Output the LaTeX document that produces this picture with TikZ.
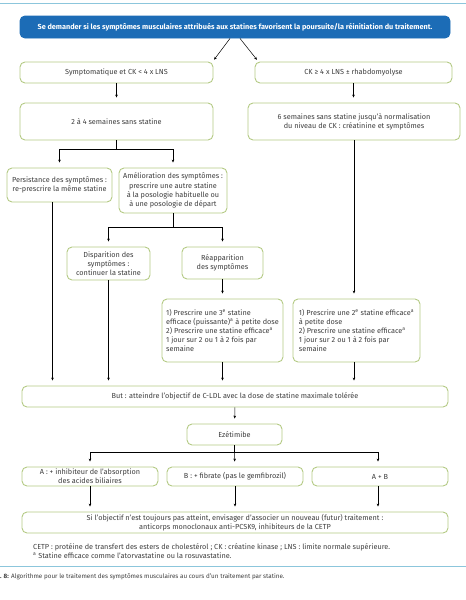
\documentclass[tikz,border=0pt]{standalone}
\usepackage{fontspec}
\setmainfont{Fira Sans}
\usetikzlibrary{arrows.meta}
\definecolor{boxgreen}{RGB}{180,202,132}
\definecolor{headblue}{RGB}{28,108,182}
\definecolor{ruleblue}{RGB}{140,198,220}
\definecolor{txtgray}{RGB}{62,62,62}

\begin{document}
\begin{tikzpicture}[x = 1pt, y = -1pt,
    every node/.style = {font = \fontsize{7.3}{9.2}\selectfont, text = txtgray},
    box/.style = {draw = boxgreen, line width = 0.9pt, rounded corners = 5pt,
                  fill = white, align = center, inner sep = 2pt},
    leftbox/.style = {box, align = left},
    arr/.style = {-{Stealth[length = 3pt, width = 2.6pt]}, line width = 0.5pt,
                  shorten >= 5pt}]
  \useasboundingbox (0, 0) rectangle (466, 600);
  \draw [ruleblue, line width = 0.8pt] (0, 3) -- (466, 3);

  \node [box, draw = headblue, fill = headblue, text = white,
         minimum width = 430pt, minimum height = 22pt] (head) at (235, 27)
        {\bfseries Se demander si les symptômes musculaires attribués aux statines favorisent la poursuite/la réinitiation du traitement.};

  \node [box, minimum width = 193pt, minimum height = 21pt] (symp) at (116.5, 72.5)
        {Symptomatique et CK < 4 x LNS};
  \node [box, minimum width = 197pt, minimum height = 21pt] (ckhigh) at (353.5, 72.5)
        {CK ≥ 4 x LNS ± rhabdomyolyse};
  \draw [arr, shorten >= 1pt] ([xshift = -5pt]head.south) -- ([yshift = 1pt]symp.north east);
  \draw [arr, shorten >= 1pt] ([xshift = 5pt]head.south) -- ([xshift = 3pt, yshift = 1pt]ckhigh.north west);

  \node [box, minimum width = 193pt, minimum height = 37pt] (wait1) at (116.5, 121.5)
        {2 à 4 semaines sans statine};
  \node [box, minimum width = 212pt, minimum height = 37pt] (wait2) at (354, 121.5)
        {6 semaines sans statine jusqu’à normalisation\\du niveau de CK : créatinine et symptômes};
  \draw [arr] (symp) -- (wait1);
  \draw [arr] (ckhigh) -- (ckhigh |- wait2.north);

  \node [box, minimum width = 105pt, minimum height = 34pt] (pers) at (59.5, 185)
        {Persistance des symptômes :\\re-prescrire la même statine};
  \node [box, minimum width = 108pt, minimum height = 45pt] (amel) at (173, 190.5)
        {Amélioration des symptômes :\\prescrire une autre statine\\à la posologie habituelle ou\\à une posologie de départ};
  \coordinate (split1) at (116.5, 149);
  \draw (wait1) -- (split1);
  \draw [arr] (split1) -| (pers);
  \draw [arr] (split1) -| (amel);

  \node [box, minimum width = 83pt, minimum height = 33pt] (disp) at (108.5, 263.5)
        {Disparition des\\symptômes :\\continuer la statine};
  \node [box, minimum width = 81pt, minimum height = 32pt] (reap) at (222.5, 263)
        {Réapparition\\des symptômes};
  \coordinate (split2) at (173, 227);
  \draw (amel) -- (split2);
  \draw [arr] (split2) -| (disp);
  \draw [arr] (split2) -| (reap);

  \node [leftbox, minimum width = 121pt, minimum height = 63pt] (third) at (222.5, 330.5)
        {1) Prescrire une 3\textsuperscript{e} statine\\efficace (puissante)\textsuperscript{a} à petite dose\\2) Prescrire une statine efficace\textsuperscript{a}\\1 jour sur 2 ou 1 à 2 fois par\\semaine};
  \node [leftbox, minimum width = 127pt, minimum height = 63pt] (second) at (356.5, 330.5)
        {1) Prescrire une 2\textsuperscript{e} statine efficace\textsuperscript{a}\\à petite dose\\2) Prescrire une statine efficace\textsuperscript{a}\\1 jour sur 2 ou 1 à 2 fois par\\semaine};
  \draw [arr] (reap) -- (third);
  \draw [arr] (wait2) -- (wait2 |- second.north);

  \node [box, minimum width = 426pt, minimum height = 21pt] (goal) at (235, 396.5)
        {But : atteindre l’objectif de C-LDL avec la dose de statine maximale tolérée};
  \draw [arr] ([xshift = -7pt]pers.south) -- ([xshift = -7pt]pers.south |- goal.north);
  \draw [arr] (disp) -- (disp |- goal.north);
  \draw [arr] (third) -- (third |- goal.north);
  \draw [arr] (wait2 |- second.south) -- (wait2 |- goal.north);

  \node [box, minimum width = 95pt, minimum height = 21pt] (ezet) at (234.5, 434.5)
        {Ezétimibe};
  \draw [arr] (goal) -- (ezet);

  \node [box, minimum width = 136pt, minimum height = 19pt] (optA) at (90, 476.5)
        {A : + inhibiteur de l’absorption\\des acides biliaires};
  \node [box, minimum width = 136pt, minimum height = 19pt] (optB) at (235, 476.5)
        {B : + fibrate (pas le gemfibrozil)};
  \node [box, minimum width = 136pt, minimum height = 19pt] (optAB) at (380, 476.5)
        {A + B};
  \coordinate (split3) at (234.5, 452);
  \draw (ezet) -- (split3);
  \draw [arr] (split3) -| (optA);
  \draw [arr] (split3) -- (optB);
  \draw [arr] (split3) -| ([xshift = -2pt]optAB.north);

  \node [box, minimum width = 426pt, minimum height = 21pt] (final) at (235, 522.5)
        {Si l’objectif n’est toujours pas atteint, envisager d’associer un nouveau (futur) traitement :\\anticorps monoclonaux anti-PCSK9, inhibiteurs de la CETP};
  \draw [arr] (optA) -- (final.north -| optA);
  \draw [arr] (optB) -- (final);
  \draw [arr] ([xshift = -2pt]optAB.south) -- ([xshift = -2pt]final.north -| optAB);

  \node [anchor = west, inner sep = 0pt] (notes) at (33, 547)
        {CETP : protéine de transfert des esters de cholestérol ; CK : créatine kinase ; LNS : limite normale supérieure.};
  \node [anchor = west, inner sep = 0pt] (notea) at (33, 556)
        {\textsuperscript{a} Statine efficace comme l’atorvastatine ou la rosuvastatine.};
  \draw [ruleblue, line width = 0.8pt] (0, 566) -- (466, 566);
  \node [anchor = west, inner sep = 0pt, font = \fontsize{6.3}{7.5}\selectfont] (caption) at (0, 577)
        {\textbf{. 8:} Algorithme pour le traitement des symptômes musculaires au cours d’un traitement par statine.};
\end{tikzpicture}
\end{document}
